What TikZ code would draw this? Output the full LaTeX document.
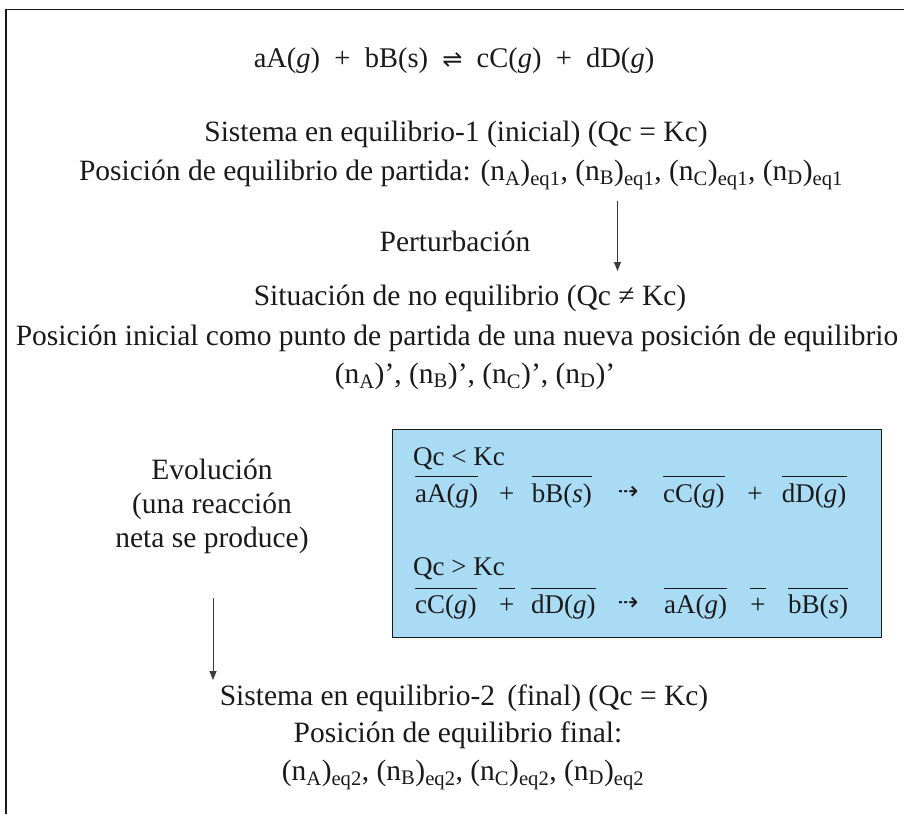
\documentclass[tikz,border=0pt]{standalone}
\usepackage{fontspec}
\setmainfont{Liberation Serif}
\newfontfamily\dejavu{DejaVu Sans}
\usetikzlibrary{arrows.meta}
\definecolor{boxblue}{RGB}{169,219,245}
\definecolor{ink}{RGB}{26,26,26}
\definecolor{arrgray}{RGB}{60,60,60}
\newcommand{\sbx}[1]{\textsubscript{#1}}
\begin{document}
\begin{tikzpicture}[x=1pt,y=-1pt,
  txt/.style={anchor=base,inner sep=0pt,text=ink,font=\fontsize{29.5}{34}\selectfont},
  eqn/.style={anchor=base,inner sep=0pt,text=ink,font=\fontsize{28.5}{32}\selectfont},
  term/.style={anchor=base west,inner sep=0pt,text=ink,font=\fontsize{27}{30}\selectfont},
  plus/.style={anchor=base,inner sep=0pt,text=ink,font=\fontsize{27}{30}\selectfont},
  dots/.style={anchor=base,inner sep=0pt,text=ink,font=\dejavu\fontsize{25}{28}\selectfont},
  ovl/.style={line width=0.9pt,draw=ink},
  conn/.style={draw=arrgray,line width=0.9pt,-{Triangle[length=9pt,width=7pt]}},
  frame/.style={draw=ink,line width=1.3pt}]
\useasboundingbox (0,0) rectangle (904,814);
\draw[frame] (6,814) -- (6,9.3) -- (904,9.3);

\node[eqn] (eq) at (454,67) {aA(\textit{g})\enspace+\enspace bB(s)\enspace{\dejavu\fontsize{24}{28}\selectfont ⇌}\enspace cC(\textit{g})\enspace+\enspace dD(\textit{g})};

\node[txt] (s1) at (456,141) {Sistema en equilibrio-1 (inicial) (Qc = Kc)};
\node[txt] (p1) at (461,180) {Posición de equilibrio de partida: (n\sbx{A})\sbx{eq1}, (n\sbx{B})\sbx{eq1}, (n\sbx{C})\sbx{eq1}, (n\sbx{D})\sbx{eq1}};
\node[txt] (pert) at (455,251) {Perturbación};
\node[txt] (sit) at (470,305) {Situación de no equilibrio (Qc ≠ Kc)};
\node[txt] (pi) at (457,345) {Posición inicial como punto de partida de una nueva posición de equilibrio};
\node[txt] (pr) at (475,383) {(n\sbx{A})’, (n\sbx{B})’, (n\sbx{C})’, (n\sbx{D})’};

\coordinate (a1s) at (617.5,201);
\coordinate (a1e) at (617.5,271);
\draw[conn] (a1s) -- (a1e);

\node[draw=ink,line width=1.2pt,fill=boxblue,minimum width=489pt,minimum height=208pt,inner sep=0pt] (box) at (637.2,533.3) {};

\node[term] (q1) at (413,465) {Qc < Kc};
\node[term] (r1a) at (415,502) {aA(\textit{g})};
\node[plus] (r1p1) at (506.7,502) {+};
\node[term] (r1b) at (531.7,502) {bB(\textit{s})};
\node[dots] (r1d) at (628,499) {⇢};
\node[term] (r1c) at (663,502) {cC(\textit{g})};
\node[plus] (r1p2) at (755,502) {+};
\node[term] (r1e) at (781.7,502) {dD(\textit{g})};
\coordinate (ov1) at (0,476.7);
\foreach \t in {r1a,r1b,r1c,r1e} \draw[ovl] (\t.west |- ov1) -- (\t.east |- ov1);

\node[term] (q2) at (413,575) {Qc > Kc};
\node[term] (r2a) at (415,613) {cC(\textit{g})};
\node[plus] (r2p1) at (506.7,613) {+};
\node[term] (r2b) at (531,613) {dD(\textit{g})};
\node[dots] (r2d) at (628,610) {⇢};
\node[term] (r2c) at (664,613) {aA(\textit{g})};
\node[plus] (r2p2) at (758,613) {+};
\node[term] (r2e) at (788,613) {bB(\textit{s})};
\coordinate (ov2) at (0,588.3);
\foreach \t in {r2a,r2p1,r2b,r2c,r2p2,r2e} \draw[ovl] (\t.west |- ov2) -- (\t.east |- ov2);

\node[txt,align=center,anchor=center] (evo) at (212,506) {Evolución\\(una reacción\\neta se produce)};
\coordinate (a2s) at (213,598);
\coordinate (a2e) at (213,680);
\draw[conn] (a2s) -- (a2e);

\node[txt] (s2) at (464,705) {Sistema en equilibrio-2\, (final) (Qc = Kc)};
\node[txt] (pf) at (458,742) {Posición de equilibrio final:};
\node[txt] (pe2) at (463,780) {(n\sbx{A})\sbx{eq2}, (n\sbx{B})\sbx{eq2}, (n\sbx{C})\sbx{eq2}, (n\sbx{D})\sbx{eq2}};
\end{tikzpicture}
\end{document}
